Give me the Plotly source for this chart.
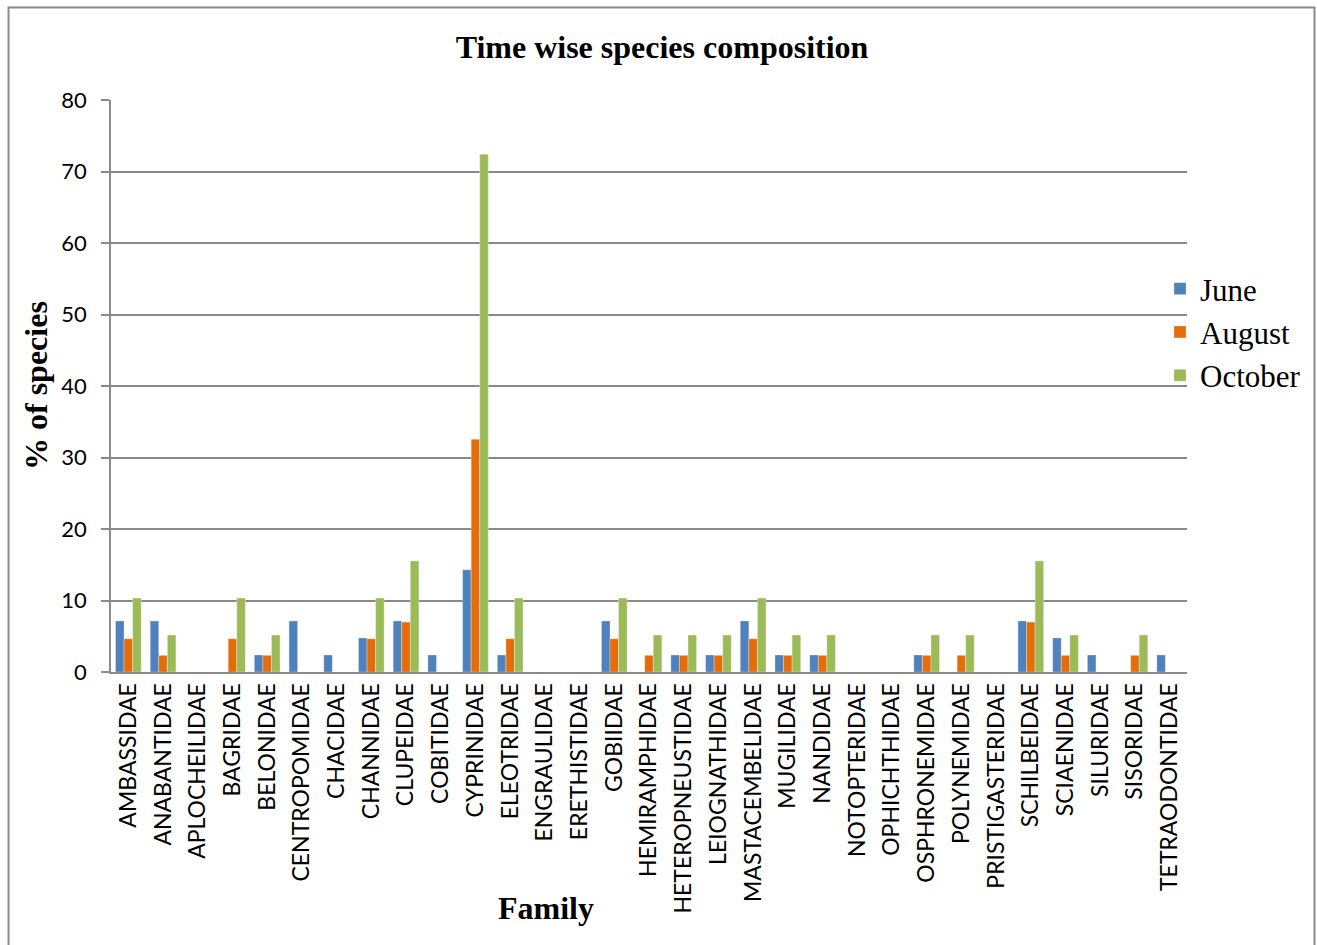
import plotly.graph_objects as go

families = [
    "AMBASSIDAE", "ANABANTIDAE", "APLOCHEILIDAE", "BAGRIDAE", "BELONIDAE",
    "CENTROPOMIDAE", "CHACIDAE", "CHANNIDAE", "CLUPEIDAE", "COBITIDAE",
    "CYPRINIDAE", "ELEOTRIDAE", "ENGRAULIDAE", "ERETHISTIDAE", "GOBIIDAE",
    "HEMIRAMPHIDAE", "HETEROPNEUSTIDAE", "LEIOGNATHIDAE", "MASTACEMBELIDAE",
    "MUGILIDAE", "NANDIDAE", "NOTOPTERIDAE", "OPHICHTHIDAE", "OSPHRONEMIDAE",
    "POLYNEMIDAE", "PRISTIGASTERIDAE", "SCHILBEIDAE", "SCIAENIDAE",
    "SILURIDAE", "SISORIDAE", "TETRAODONTIDAE",
]

june = [7.14, 7.14, 0, 0, 2.38, 7.14, 2.38, 4.76, 7.14, 2.38,
        14.29, 2.38, 0, 0, 7.14, 0, 2.38, 2.38, 7.14, 2.38,
        2.38, 0, 0, 2.38, 0, 0, 7.14, 4.76, 2.38, 0, 2.38]
august = [4.65, 2.33, 0, 4.65, 2.33, 0, 0, 4.65, 6.98, 0,
          32.56, 4.65, 0, 0, 4.65, 2.33, 2.33, 2.33, 4.65, 2.33,
          2.33, 0, 0, 2.33, 2.33, 0, 6.98, 2.33, 0, 2.33, 0]
october = [10.34, 5.17, 0, 10.34, 5.17, 0, 0, 10.34, 15.52, 0,
           72.41, 10.34, 0, 0, 10.34, 5.17, 5.17, 5.17, 10.34, 5.17,
           5.17, 0, 0, 5.17, 5.17, 0, 15.52, 5.17, 0, 5.17, 0]

y_ticks = [0, 10, 20, 30, 40, 50, 60, 70, 80]

W, H = 1317, 945
L, R, T, B = 111, 130, 100, 273
PW, PH = W - L - R, H - T - B


def px(x):
    return (x - L) / PW


def py(y):
    return (H - B - y) / PH


series = [
    ("June", june, "#4F81BD"),
    ("August", august, "#E46C0A"),
    ("October", october, "#9BBB59"),
]

fig = go.Figure()
for name, vals, col in series:
    fig.add_trace(go.Bar(
        x=families, y=vals, name=name,
        marker=dict(color=col, line=dict(color="rgba(255,255,255,0.6)", width=0.5)),
    ))

grid = "#8a8a8a"
serif = "Liberation Serif"
fig.update_layout(
    width=W, height=H, autosize=False,
    margin=dict(l=L, r=R, t=T, b=B, autoexpand=False),
    paper_bgcolor="white", plot_bgcolor="white",
    barmode="group", bargap=0.26, bargroupgap=0,
    showlegend=True,
    legend=dict(
        x=px(1160), y=py(332), xanchor="left", yanchor="middle",
        font=dict(family=serif, size=31, color="black"),
        itemwidth=30, tracegroupgap=0, bgcolor="rgba(0,0,0,0)",
    ),
    title=dict(
        text="<b>Time wise species composition</b>",
        x=662 / W, xanchor="center", y=1 - 47 / H, yanchor="middle",
        font=dict(family=serif, size=32, color="black"),
    ),
    xaxis=dict(
        tickangle=-90, tickfont=dict(family="Lato", size=23, color="black"),
        showgrid=False, showline=True, linecolor=grid, linewidth=2,
        ticks="", zeroline=False,
    ),
    yaxis=dict(
        range=[0, 80], tickvals=y_ticks,
        tickfont=dict(family="Lato", size=22, color="black"),
        showgrid=True, gridcolor=grid, gridwidth=1.5,
        showline=True, linecolor=grid, linewidth=1.5,
        ticks="outside", ticklen=8, tickcolor=grid, tickwidth=1.5,
        ticklabelstandoff=10, zeroline=False,
    ),
    annotations=[
        dict(text="<b>% of species</b>", textangle=-90,
             x=px(36), y=py(386), xref="paper", yref="paper",
             xanchor="center", yanchor="middle", showarrow=False,
             font=dict(family=serif, size=32, color="black")),
        dict(text="<b>Family</b>",
             x=px(546), y=py(908), xref="paper", yref="paper",
             xanchor="center", yanchor="middle", showarrow=False,
             font=dict(family=serif, size=32, color="black")),
    ],
    shapes=[
        dict(type="rect", xref="paper", yref="paper",
             x0=px(8.5), x1=px(1314.5), y0=py(960), y1=py(7.5),
             line=dict(color="#8a8a8a", width=2), fillcolor="rgba(0,0,0,0)"),
    ],
)

fig.write_html("out.html")
